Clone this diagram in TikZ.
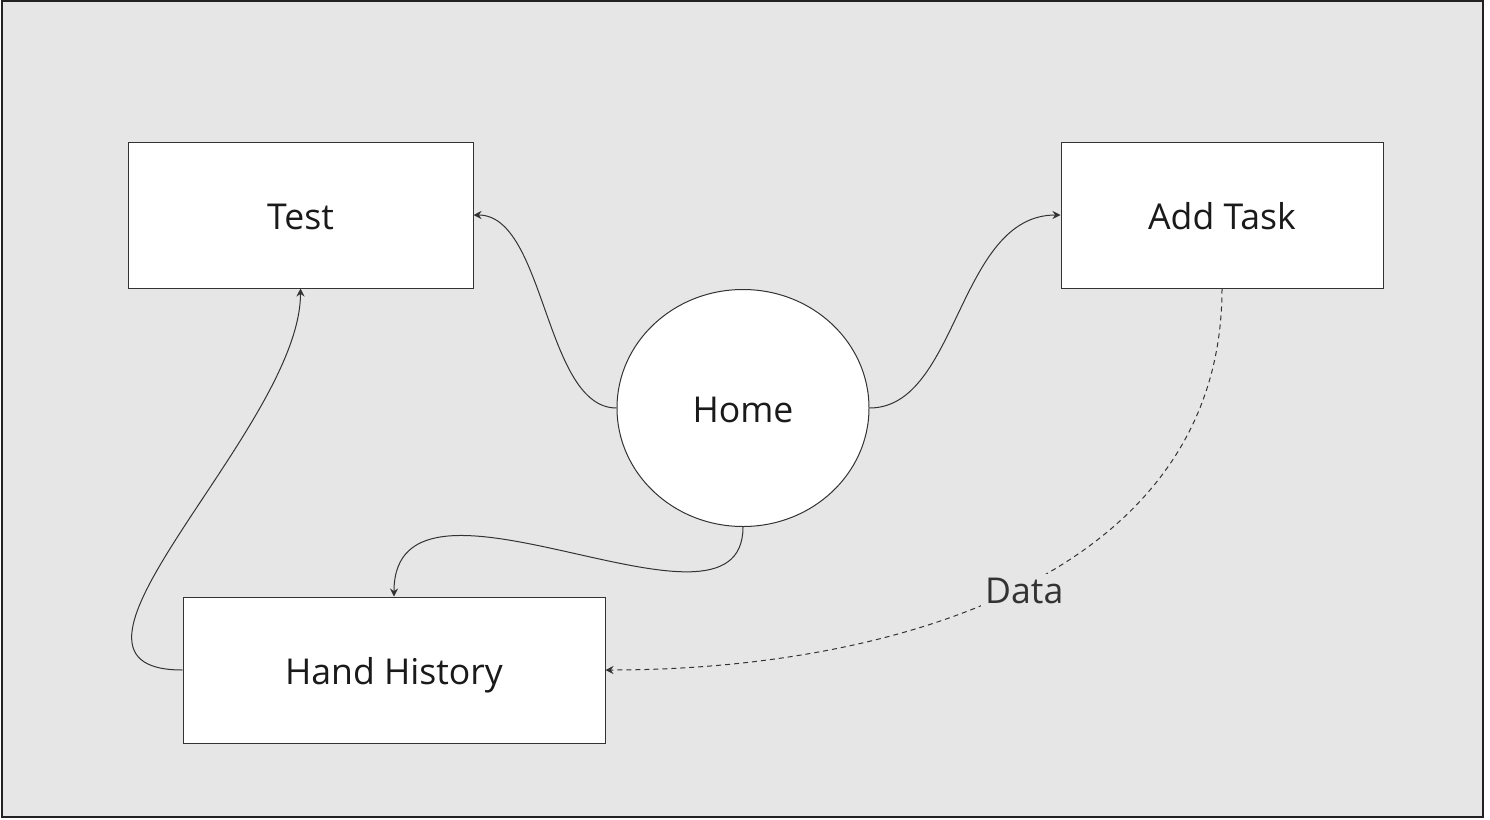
\documentclass[tikz,border=0pt]{standalone}
\usepackage{xcolor}
\usepackage{fontspec}
\setmainfont{Open Sans}
\usepackage{tikz}
\usetikzlibrary{shapes, arrows.meta, positioning, calc}
\definecolor{canvasgray}{RGB}{230, 230, 230}
\definecolor{framecolor}{RGB}{34, 34, 34}
\definecolor{linecolor}{RGB}{51, 51, 51}
\definecolor{textcolor}{RGB}{26, 26, 26}

\begin{document}
\begin{tikzpicture}[x=0.5pt, y=-0.5pt,
        screen/.style={draw=linecolor, line width=0.5pt, fill=white, minimum width=#1, minimum height=73pt, inner sep=0pt, text=textcolor, font=\fontsize{17.8}{21}\selectfont, text height=14.6pt, text depth=0pt},
        hub/.style={ellipse, draw=linecolor, line width=0.5pt, fill=white, minimum width=126pt, minimum height=118.5pt, inner sep=0pt, text=textcolor, font=\fontsize{17.8}{21}\selectfont, text height=14.6pt, text depth=0pt},
        link/.style={draw=linecolor, line width=0.5pt, -{Stealth[length=4pt, width=4pt]}},
        dataflow/.style={link, dash pattern=on 2.5pt off 2pt},
        datalabel/.style={fill=canvasgray, inner sep=2pt, text=linecolor, font=\fontsize{17.8}{21}\selectfont}]
        % Canvas
        \fill[white] (0,0) rectangle (1490,820);
        \useasboundingbox (0,0) rectangle (1490,820);
        \draw[framecolor, line width=0.75pt, fill=canvasgray] (2,1) rectangle (1483,817);

        % Test Box
        \node[screen=172.5pt] (test) at (300.5,215) {Test};

        % Add Task Box
        \node[screen=161pt] (addtask) at (1222,215) {Add Task};

        % Home Circle
        \node[hub] (home) at (743,408) {Home};

        % Hand History Box
        \node[screen=211pt] (hand) at (394,670) {Hand History};

        % Arrows
        \draw[link] (home.west) .. controls +(-72,0) and +(72,0) .. (test.east);
        \draw[link] (home.east) .. controls +(89,0) and +(-103,0) .. (addtask.west);
        \draw[link] (home.south) .. controls +(0,133) and +(0,-157) .. (hand.north);
        \draw[link] (hand.west) .. controls +(-163,0) and +(0,140) .. (test.south);
        \draw[dataflow] (addtask.south) .. controls +(0,289) and +(284,0) .. node[datalabel, xshift=2pt, yshift=-1.5pt] (data) {Data} (hand.east);
    \end{tikzpicture}
\end{document}
